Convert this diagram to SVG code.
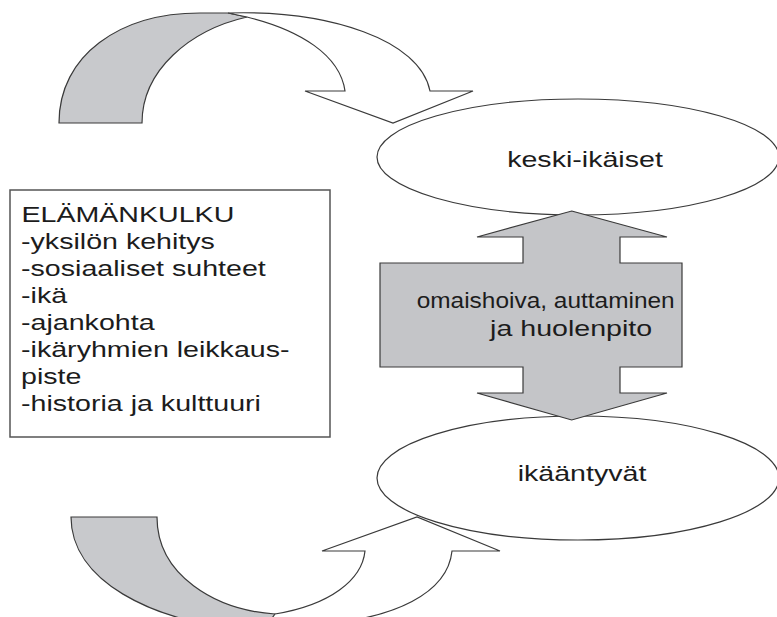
<svg xmlns="http://www.w3.org/2000/svg" width="777" height="617" viewBox="0 0 777 617">
  <style>
    .ln { stroke: #3a3a3a; stroke-width: 1.2; stroke-linejoin: miter; }
    .back { fill: #c8c9cc; }
    .front { fill: #ffffff; }
    .node { fill: #ffffff; stroke: #3a3a3a; stroke-width: 1.2; }
    .band { fill: #c4c5c8; stroke: #3a3a3a; stroke-width: 1.2; }
    .box { fill: #ffffff; stroke: #555555; stroke-width: 1.5; }
    text { font-family: "Liberation Sans", Arial, sans-serif; font-size: 22px; fill: #1c1c1c; }
  </style>

  <rect width="777" height="617" fill="#ffffff"/>

  <!-- curved flow arrows around the cycle -->
  <g id="connectors">
    <g id="arrow-top">
      <path class="ln back" d="M59,123 C59,55 120,13 200,13 L228,13 L247,17 C190,30 142,70 142,123 Z"/>
      <path class="ln front" d="M228,13 C330,10 420,40 430,91 L473,91 L393,123 L305,91 L345,91 C340,55 300,30 247,17 Z"/>
    </g>
    <g id="arrow-bottom">
      <path class="ln back" d="M71,517 L157,517 C157,575 215,610 275,614 L300,630 L250,630 C150,622 71,580 71,517 Z"/>
      <path class="ln front" d="M275,614 C330,605 362,580 365,551 L322,551 L417,517 L500,551 L452,551 C448,590 400,622 300,625 L262,632 Z"/>
    </g>
  </g>

  <g id="node-keski-ikaiset">
    <ellipse class="node" cx="578" cy="157" rx="201" ry="58"/>
    <text transform="scale(1.3 1)" x="450" y="167" text-anchor="middle">keski-ikäiset</text>
  </g>

  <g id="node-ikaantyvat">
    <ellipse class="node" cx="578" cy="478" rx="201" ry="62"/>
    <text transform="scale(1.3 1)" x="447.7" y="481" text-anchor="middle">ikääntyvät</text>
  </g>

  <!-- two-way link between the generations -->
  <g id="node-omaishoiva">
    <path class="band" d="M571.7,211 L667,237 L620,237 L620,263 L682,263 L682,367 L620,367 L620,393 L667,393 L571.7,420 L477,393 L523,393 L523,367 L380,367 L380,263 L523,263 L523,237 L477,237 Z"/>
    <text transform="scale(1.3 1)" x="320.5" y="308" textLength="198.5" lengthAdjust="spacingAndGlyphs">omaishoiva, auttaminen</text>
    <text transform="scale(1.3 1)" x="377" y="336">ja huolenpito</text>
  </g>

  <g id="node-elamankulku">
    <rect class="box" x="10" y="190" width="320" height="247"/>
    <g transform="scale(1.3 1)">
      <text x="16.5" y="222">ELÄMÄNKULKU</text>
      <text x="16.2" y="249">-yksilön kehitys</text>
      <text x="16.2" y="276">-sosiaaliset suhteet</text>
      <text x="16.2" y="303">-ikä</text>
      <text x="16.2" y="330">-ajankohta</text>
      <text x="16.2" y="357">-ikäryhmien leikkaus-</text>
      <text x="16.2" y="384">piste</text>
      <text x="16.2" y="411">-historia ja kulttuuri</text>
    </g>
  </g>
</svg>
